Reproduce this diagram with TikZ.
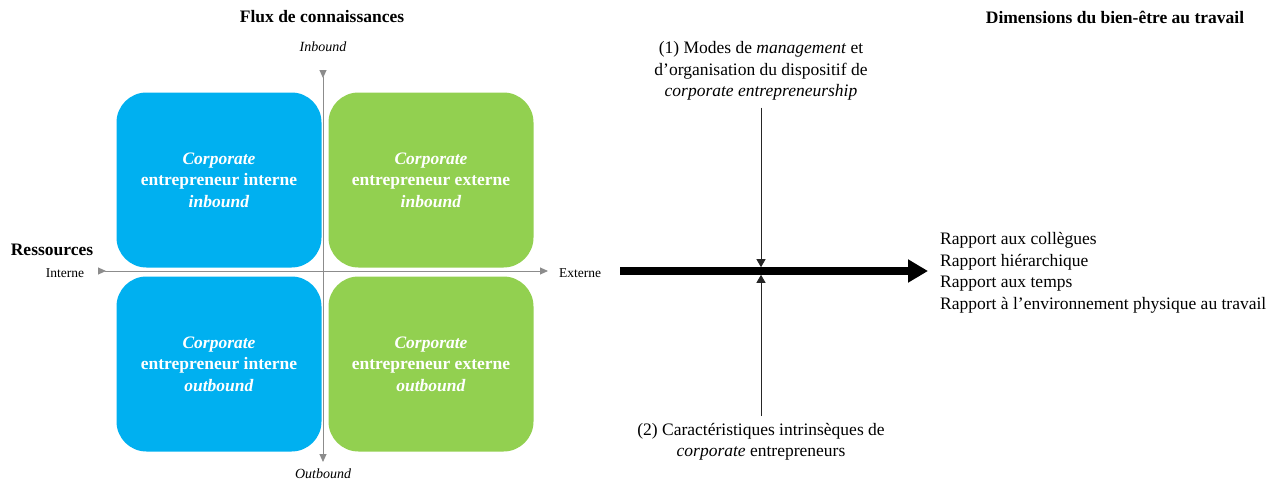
\documentclass[tikz,border=0pt]{standalone}
\usepackage{fontspec}
\setmainfont{Liberation Serif}
\usetikzlibrary{arrows.meta,positioning}
\definecolor{cebleu}{HTML}{00B0F0}
\definecolor{ceverd}{HTML}{92D050}
\definecolor{axegris}{HTML}{8C8C8C}

\begin{document}
\begin{tikzpicture}[x=1pt,y=-1pt, every node/.style={font=\fontsize{17.5}{21.5}\selectfont},
    quad/.style={rectangle, rounded corners=30pt, minimum width=205pt, minimum height=175pt, text=white, align=center, font=\fontsize{17.5}{21.5}\selectfont\bfseries},
    axe/.style={draw=axegris, line width=0.9pt, {Triangle[reversed,length=8pt,width=7pt]}-{Triangle[length=8pt,width=7pt]}},
    petit/.style={font=\fontsize{13.5}{16}\selectfont},
    titre/.style={font=\fontsize{17.5}{21.5}\selectfont\bfseries},
    fine/.style={draw=black!85, line width=0.8pt, -{Triangle[length=8pt,width=9pt]}}]
    \useasboundingbox (0,0) rectangle (1281,482);
    % matrice des flux
    \node[titre] (flux) at (322,17) {Flux de connaissances};
    \node[font=\fontsize{14}{16}\selectfont\itshape] (inb) at (323,47) {Inbound};
    \node[font=\fontsize{14}{16}\selectfont\itshape] (outb) at (323,474) {Outbound};
    \node[titre] (res) at (52,250) {Ressources};
    \node[petit] (int) at (65,273) {Interne};
    \node[petit] (ext) at (580,273) {Externe};
    \coordinate (vhaut) at (323,70);
    \coordinate (vbas) at (323,462);
    \coordinate (hgauche) at (98,271);
    \coordinate (hdroite) at (548,271);
    \draw[axe] (vhaut) -- (vbas);
    \draw[axe] (hgauche) -- (hdroite);
    \node[quad, fill=cebleu] (intin) at (219,180) {\textit{Corporate}\\entrepreneur interne\\\textit{inbound}};
    \node[quad, fill=ceverd] (extin) at (431,180) {\textit{Corporate}\\entrepreneur externe\\\textit{inbound}};
    \node[quad, fill=cebleu] (intout) at (219,364) {\textit{Corporate}\\entrepreneur interne\\\textit{outbound}};
    \node[quad, fill=ceverd] (extout) at (431,364) {\textit{Corporate}\\entrepreneur externe\\\textit{outbound}};
    % bien-etre
    \node[titre] (dim) at (1115,17) {Dimensions du bien-être au travail};
    \node[align=left, anchor=west, inner xsep=12pt] (bien) at (928,273) {Rapport aux collègues\\Rapport hiérarchique\\Rapport aux temps\\Rapport à l’environnement physique au travail};
    \coordinate (fdebut) at (620,271);
    \draw[line width=7.5pt, -{Triangle[length=20pt,width=22pt]}] (fdebut) -- (fdebut -| bien.west);
    \node[align=center, inner sep=7pt] (modes) at (761,71) {(1) Modes de \textit{management} et\\d’organisation du dispositif de\\\textit{corporate entrepreneurship}};
    \node[align=center, inner sep=7pt] (carac) at (761,442) {(2) Caractéristiques intrinsèques de\\\textit{corporate} entrepreneurs};
    \coordinate (croisa) at (761,267.2);
    \coordinate (croisb) at (761,274.8);
    \draw[fine] (modes) -- (croisa);
    \draw[fine] (carac) -- (croisb);
\end{tikzpicture}
\end{document}
